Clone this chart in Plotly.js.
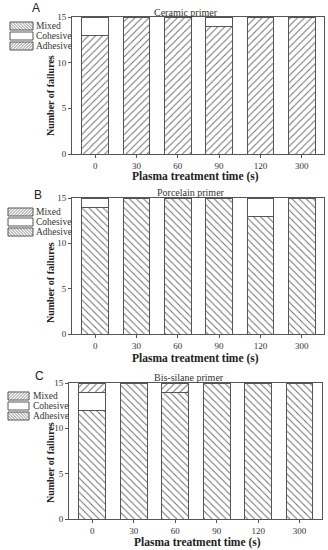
<!DOCTYPE html>
<html>
<head>
<meta charset="utf-8">
<script src="https://cdn.plot.ly/plotly-3.0.1.min.js"></script>
<style>html,body{margin:0;padding:0;background:#fff;}#chart{width:328px;height:550px;}</style>
</head>
<body>
<div id="chart"></div>
<script>
// ---- data ----
var categories = ['0', '30', '60', '90', '120', '300'];
var panelTitles = ['Ceramic primer', 'Porcelain primer', 'Bis-silane primer'];
var panelLetters = ['A', 'B', 'C'];
var ceramicAdhesive = [13, 15, 15, 14, 15, 15];
var ceramicCohesive = [2, 0, 0, 1, 0, 0];
var ceramicMixed = [0, 0, 0, 0, 0, 0];
var porcelainAdhesive = [14, 15, 15, 15, 13, 15];
var porcelainCohesive = [1, 0, 0, 0, 2, 0];
var porcelainMixed = [0, 0, 0, 0, 0, 0];
var bisAdhesive = [12, 15, 14, 15, 15, 15];
var bisCohesive = [2, 0, 0, 0, 0, 0];
var bisMixed = [1, 0, 1, 0, 0, 0];
var yTicks = [0, 5, 10, 15];
var seriesNames = ['Mixed', 'Cohesive', 'Adhesive'];

// ---- layout helpers ----
var W = 328, H = 550;
function px(x) { return x / W; }
function py(y) { return 1 - y / H; }
var SERIF = 'Liberation Serif, Times New Roman, serif';
var LINE = '#555';
var HATCH = '#666';

var panels = [
  {adh: ceramicAdhesive, coh: ceramicCohesive, mix: ceramicMixed, adhShape: '/', mixShape: '\\',
   left: 72, right: 324, top: 17, bottom: 154, titleX: 186, titleY: 12, letterX: 36, letterY: 8,
   xTitleX: 195, xTitleY: 177, yTitleX: 50, yTitleY: 96,
   leg: {x: 10, w: 23, top: 22, h: 8, step: 10, tx: 34}},
  {adh: porcelainAdhesive, coh: porcelainCohesive, mix: porcelainMixed, adhShape: '\\', mixShape: '/',
   left: 72, right: 324, top: 198, bottom: 334, titleX: 191, titleY: 193, letterX: 38, letterY: 195,
   xTitleX: 195, xTitleY: 358, yTitleX: 50, yTitleY: 283,
   leg: {x: 8, w: 25, top: 208, h: 8, step: 10, tx: 34}},
  {adh: bisAdhesive, coh: bisCohesive, mix: bisMixed, adhShape: '\\', mixShape: '/',
   left: 69, right: 322, top: 383, bottom: 519, titleX: 189, titleY: 377, letterX: 39, letterY: 376,
   xTitleX: 197, xTitleY: 542, yTitleX: 50, yTitleY: 463,
   leg: {x: 8, w: 21, top: 392, h: 8, step: 10, tx: 31}}
];

function pattern(shape) {
  return {shape: shape, fgcolor: HATCH, bgcolor: '#ffffff', size: 5, solidity: 0.18};
}

var data = [];
var layout = {
  width: W, height: H,
  margin: {l: 0, r: 0, t: 0, b: 0},
  paper_bgcolor: '#fff', plot_bgcolor: '#fff',
  barmode: 'stack', bargap: 0.355,
  showlegend: false,
  font: {family: SERIF, color: '#333'},
  annotations: [], shapes: []
};

// hatch lines clipped to a rectangle given in pixel coords
function hatchPath(x0, y0, x1, y1, shape, s) {
  var d = '';
  var w = x1 - x0, h = y1 - y0;
  for (var c = s / 2; c < w + h; c += s) {
    var pts = [];
    if (shape === '/') {
      // u + v = c with u = x - x0, v = y - y0 (v downward) -> rises to the right
      var uA = Math.max(0, c - h), uB = Math.min(w, c);
      if (uB > uA) pts = [[x0 + uA, y0 + (c - uA)], [x0 + uB, y0 + (c - uB)]];
    } else {
      // u - v = c - h  -> falls to the right
      var k = c - h;
      var uC = Math.max(0, k), uD = Math.min(w, k + h);
      if (uD > uC) pts = [[x0 + uC, y0 + (uC - k)], [x0 + uD, y0 + (uD - k)]];
    }
    if (pts.length === 2) {
      d += 'M' + px(pts[0][0]).toFixed(5) + ',' + py(pts[0][1]).toFixed(5) +
           'L' + px(pts[1][0]).toFixed(5) + ',' + py(pts[1][1]).toFixed(5);
    }
  }
  return d;
}

panels.forEach(function (p, i) {
  var sfx = i === 0 ? '' : String(i + 1);
  var xa = 'x' + sfx, ya = 'y' + sfx;
  data.push({type: 'bar', name: 'Adhesive', x: categories, y: p.adh, xaxis: xa, yaxis: ya,
    marker: {color: '#fff', line: {color: LINE, width: 1}, pattern: pattern(p.adhShape)}, hoverinfo: 'y+name'});
  data.push({type: 'bar', name: 'Cohesive', x: categories, y: p.coh, xaxis: xa, yaxis: ya,
    marker: {color: '#fff', line: {color: LINE, width: 1}}, hoverinfo: 'y+name'});
  data.push({type: 'bar', name: 'Mixed', x: categories, y: p.mix, xaxis: xa, yaxis: ya,
    marker: {color: '#fff', line: {color: LINE, width: 1}, pattern: pattern(p.mixShape)}, hoverinfo: 'y+name'});

  layout['xaxis' + sfx] = {
    domain: [px(p.left), px(p.right)], anchor: ya,
    type: 'category', range: [-0.56, 5.54],
    showline: true, mirror: true, linecolor: LINE, linewidth: 1,
    ticks: 'outside', ticklen: 3, tickcolor: LINE,
    showgrid: false, zeroline: false,
    tickfont: {family: SERIF, size: 9, color: '#333'}, fixedrange: true
  };
  layout['yaxis' + sfx] = {
    domain: [py(p.bottom), py(p.top)], anchor: xa,
    range: [0, 15], tickvals: yTicks,
    showline: true, mirror: true, linecolor: LINE, linewidth: 1,
    ticks: 'outside', ticklen: 3, tickcolor: LINE,
    showgrid: false, zeroline: false,
    tickfont: {family: SERIF, size: 9, color: '#333'}, fixedrange: true
  };

  layout.annotations.push(
    {text: panelTitles[i], xref: 'paper', yref: 'paper', x: px(p.titleX), y: py(p.titleY),
     showarrow: false, xanchor: 'center', yanchor: 'middle', font: {family: SERIF, size: 10, color: '#333'}},
    {text: panelLetters[i], xref: 'paper', yref: 'paper', x: px(p.letterX), y: py(p.letterY),
     showarrow: false, xanchor: 'center', yanchor: 'middle', font: {family: 'Liberation Sans, Arial, sans-serif', size: 12, color: '#222'}},
    {text: '<b>Plasma treatment time (s)</b>', xref: 'paper', yref: 'paper', x: px(p.xTitleX), y: py(p.xTitleY),
     showarrow: false, xanchor: 'center', yanchor: 'middle', font: {family: SERIF, size: 11.5, color: '#222'}},
    {text: '<b>Number of failures</b>', xref: 'paper', yref: 'paper', x: px(p.yTitleX), y: py(p.yTitleY),
     showarrow: false, xanchor: 'center', yanchor: 'middle', textangle: -90, font: {family: SERIF, size: 10, color: '#222'}}
  );

  // legend drawn by hand so that rows are as tight as in the reference (Mixed, Cohesive, Adhesive)
  var shapesFor = [p.mixShape, null, p.adhShape];
  seriesNames.forEach(function (nm, k) {
    var y0 = p.leg.top + k * p.leg.step, y1 = y0 + p.leg.h;
    var x0 = p.leg.x, x1 = p.leg.x + p.leg.w;
    if (shapesFor[k]) {
      layout.shapes.push({type: 'path', xref: 'paper', yref: 'paper',
        path: hatchPath(x0, y0, x1, y1, shapesFor[k], 3), line: {color: HATCH, width: 0.8}});
    }
    layout.shapes.push({type: 'rect', xref: 'paper', yref: 'paper',
      x0: px(x0), x1: px(x1), y0: py(y1), y1: py(y0), line: {color: LINE, width: 1}, fillcolor: 'rgba(0,0,0,0)'});
    layout.annotations.push({text: nm, xref: 'paper', yref: 'paper', x: px(p.leg.tx), y: py((y0 + y1) / 2),
      showarrow: false, xanchor: 'left', yanchor: 'middle', font: {family: SERIF, size: 9.5, color: '#333'}});
  });
});

Plotly.newPlot('chart', data, layout, {displayModeBar: false, staticPlot: true});
</script>
</body>
</html>
